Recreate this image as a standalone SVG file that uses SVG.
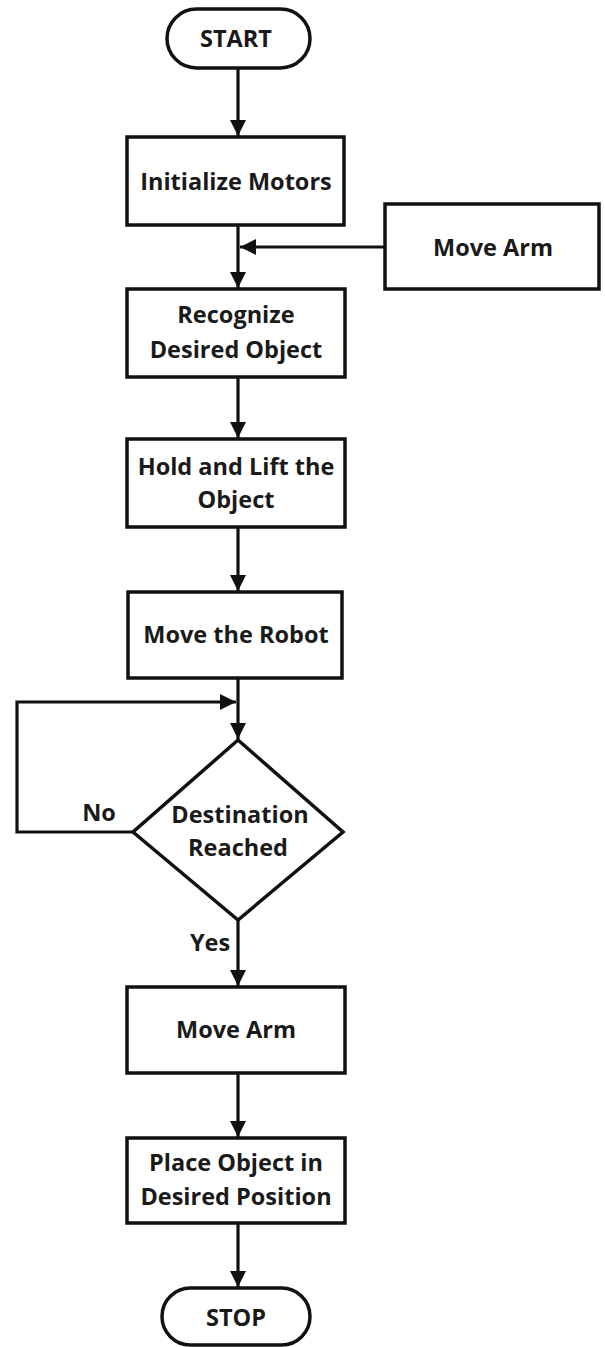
<svg xmlns="http://www.w3.org/2000/svg" width="605" height="1347" viewBox="0 0 605 1347">
<style>
.box{fill:#fff;stroke:#111;stroke-width:3.5}
.t{font-family:"Open Sans","Liberation Sans",sans-serif;font-weight:700;font-size:23.5px;fill:#1a1a1a;text-anchor:middle}
.c{fill:none;stroke:#111;stroke-width:3.2}
</style>
<defs>
<marker id="ah" viewBox="0 0 10 10" refX="10" refY="5" markerWidth="5" markerHeight="5" markerUnits="strokeWidth" orient="auto">
<path d="M0,0 L10,5 L0,10 z" fill="#111"/>
</marker>
</defs>
<rect width="605" height="1347" fill="#fff"/>
<g id="connectors">
<line class="c" x1="238" y1="68" x2="238" y2="136" marker-end="url(#ah)"/>
<line class="c" x1="238" y1="225" x2="238" y2="288" marker-end="url(#ah)"/>
<line class="c" x1="385" y1="247" x2="240" y2="247" marker-end="url(#ah)"/>
<line class="c" x1="238" y1="377" x2="238" y2="438" marker-end="url(#ah)"/>
<line class="c" x1="238" y1="527" x2="238" y2="591" marker-end="url(#ah)"/>
<line class="c" x1="238" y1="678" x2="238" y2="739" marker-end="url(#ah)"/>
<polyline class="c" points="133,832 17,832 17,702 236,702" marker-end="url(#ah)"/>
<line class="c" x1="238" y1="920" x2="238" y2="986" marker-end="url(#ah)"/>
<line class="c" x1="238" y1="1073" x2="238" y2="1137" marker-end="url(#ah)"/>
<line class="c" x1="238" y1="1223" x2="238" y2="1287" marker-end="url(#ah)"/>
<text class="t" x="99" y="821">No</text>
<text class="t" x="210" y="951">Yes</text>
</g>
<g id="start">
<rect class="box" x="167" y="9" width="143" height="59" rx="29.5"/>
<text class="t" x="236" y="47">START</text>
</g>
<g id="init">
<rect class="box" x="127" y="137" width="217" height="88"/>
<text class="t" x="236" y="190">Initialize Motors</text>
</g>
<g id="movearm1">
<rect class="box" x="385" y="204" width="214" height="85"/>
<text class="t" x="493" y="256">Move Arm</text>
</g>
<g id="recognize">
<rect class="box" x="127" y="289" width="218" height="88"/>
<text class="t" x="236" y="323">Recognize</text>
<text class="t" x="236" y="358">Desired Object</text>
</g>
<g id="hold">
<rect class="box" x="127" y="439" width="218" height="88"/>
<text class="t" x="236" y="475">Hold and Lift the</text>
<text class="t" x="236" y="508">Object</text>
</g>
<g id="moverobot">
<rect class="box" x="128" y="592" width="214" height="86"/>
<text class="t" x="236" y="643">Move the Robot</text>
</g>
<g id="decision">
<polygon class="box" points="238,740 343,832 238,920 133,832"/>
<text class="t" x="240" y="823">Destination</text>
<text class="t" x="238" y="856">Reached</text>
</g>
<g id="movearm2">
<rect class="box" x="127" y="987" width="218" height="86"/>
<text class="t" x="236" y="1038">Move Arm</text>
</g>
<g id="place">
<rect class="box" x="127" y="1138" width="218" height="85"/>
<text class="t" x="236" y="1171">Place Object in</text>
<text class="t" x="236" y="1205">Desired Position</text>
</g>
<g id="stop">
<rect class="box" x="162" y="1288" width="148" height="57" rx="28.5"/>
<text class="t" x="236" y="1326">STOP</text>
</g>
</svg>
